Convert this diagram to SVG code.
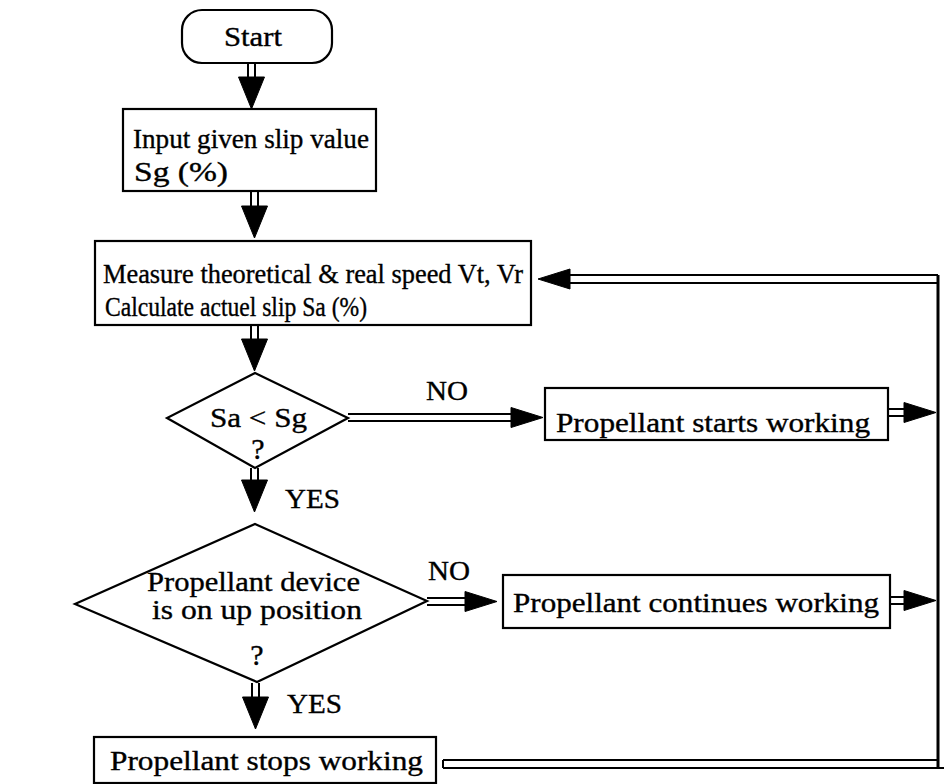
<svg xmlns="http://www.w3.org/2000/svg" width="944" height="784" viewBox="0 0 944 784">
<defs>
<style>
.box{fill:#fff;stroke:#000;stroke-width:2.2}
.t{font-family:"Liberation Serif","Times New Roman",serif;font-size:27px;fill:#000;stroke:#000;stroke-width:0.35}
.c{text-anchor:middle}
.q{font-size:30px}
.ln{stroke:#000;stroke-width:2;fill:none}
.lv{stroke:#000;stroke-width:3;fill:none}
.hd{fill:#000;stroke:#000;stroke-width:1}
</style>
<path id="down" d="M-13,0 L13,0 L0,32 Z"/>
<path id="right" d="M0,-10 L0,10 L32,0 Z"/>
<path id="left" d="M0,-10 L0,10 L-32,0 Z"/>
</defs>
<rect width="944" height="784" fill="#fff"/>

<g id="connectors">
  <!-- Start -> Input -->
  <line class="ln" x1="248" y1="63" x2="248" y2="78"/><line class="ln" x1="255" y1="63" x2="255" y2="78"/>
  <use href="#down" class="hd" x="251.5" y="77"/>
  <!-- Input -> Measure -->
  <line class="ln" x1="251" y1="191" x2="251" y2="206"/><line class="ln" x1="258" y1="191" x2="258" y2="206"/>
  <use href="#down" class="hd" x="254.5" y="206"/>
  <!-- Measure -> Decision1 -->
  <line class="ln" x1="251" y1="325" x2="251" y2="340"/><line class="ln" x1="258" y1="325" x2="258" y2="340"/>
  <use href="#down" class="hd" x="254.5" y="339"/>
  <!-- Decision1 YES -->
  <line class="ln" x1="251" y1="468" x2="251" y2="481"/><line class="ln" x1="258" y1="468" x2="258" y2="481"/>
  <use href="#down" class="hd" x="254.5" y="480"/>
  <text class="t" x="285" y="508" textLength="55" lengthAdjust="spacingAndGlyphs">YES</text>
  <!-- Decision1 NO -->
  <line class="ln" x1="348" y1="414" x2="512" y2="414"/><line class="ln" x1="348" y1="421" x2="512" y2="421"/>
  <use href="#right" class="hd" x="511" y="417.5"/>
  <text class="t" x="426" y="400" textLength="42" lengthAdjust="spacingAndGlyphs">NO</text>
  <!-- Starts -> right line -->
  <line class="ln" x1="889" y1="409" x2="905" y2="409"/><line class="ln" x1="889" y1="416" x2="905" y2="416"/>
  <use href="#right" class="hd" x="904" y="412.5"/>
  <!-- Decision2 YES -->
  <line class="ln" x1="252" y1="683" x2="252" y2="697"/><line class="ln" x1="259" y1="683" x2="259" y2="697"/>
  <use href="#down" class="hd" x="255.5" y="697"/>
  <text class="t" x="287" y="713" textLength="55" lengthAdjust="spacingAndGlyphs">YES</text>
  <!-- Decision2 NO -->
  <line class="ln" x1="427" y1="598" x2="466" y2="598"/><line class="ln" x1="427" y1="605" x2="466" y2="605"/>
  <use href="#right" class="hd" x="465" y="601.5"/>
  <text class="t" x="428" y="580" textLength="42" lengthAdjust="spacingAndGlyphs">NO</text>
  <!-- Continues -> right line -->
  <line class="ln" x1="891" y1="597" x2="905" y2="597"/><line class="ln" x1="891" y1="604" x2="905" y2="604"/>
  <use href="#right" class="hd" x="904" y="600.5"/>
  <!-- Feedback loop -->
  <line class="ln" x1="443" y1="760" x2="938" y2="760"/><line class="ln" x1="443" y1="768" x2="944" y2="768"/>
  <line class="ln" x1="443" y1="760" x2="443" y2="768"/>
  <line class="lv" x1="938" y1="275" x2="938" y2="769"/>
  <line class="ln" x1="568" y1="275" x2="938" y2="275"/><line class="ln" x1="568" y1="283" x2="938" y2="283"/>
  <use href="#left" class="hd" x="570" y="279"/>
</g>

<g id="start">
  <rect class="box" x="182" y="10" width="150" height="53" rx="20"/>
  <text class="t c" x="253" y="46" textLength="58" lengthAdjust="spacingAndGlyphs">Start</text>
</g>

<g id="input">
  <rect class="box" x="123" y="109" width="253" height="82"/>
  <text class="t" x="133" y="148" textLength="236" lengthAdjust="spacingAndGlyphs">Input given slip value</text>
  <text class="t" x="134" y="181" textLength="94" lengthAdjust="spacingAndGlyphs">Sg  (%)</text>
</g>

<g id="measure">
  <rect class="box" x="95" y="241" width="436" height="84"/>
  <text class="t" x="103" y="283" textLength="420" lengthAdjust="spacingAndGlyphs">Measure theoretical &amp; real speed  Vt, Vr</text>
  <text class="t" x="105" y="316" textLength="262" lengthAdjust="spacingAndGlyphs">Calculate actuel slip Sa (%)</text>
</g>

<g id="decision1">
  <polygon class="box" points="255,373 348,418 255,468 167,418"/>
  <text class="t" x="210" y="427" textLength="97" lengthAdjust="spacingAndGlyphs">Sa &lt; Sg</text>
  <text class="t c q" x="258" y="459">?</text>
</g>

<g id="starts">
  <rect class="box" x="545" y="388" width="343" height="52"/>
  <text class="t" x="556" y="432" textLength="314" lengthAdjust="spacingAndGlyphs">Propellant starts working</text>
</g>

<g id="decision2">
  <polygon class="box" points="255,524 427,601 257,682 75,604"/>
  <text class="t" x="147" y="591" textLength="213" lengthAdjust="spacingAndGlyphs">Propellant device</text>
  <text class="t" x="152" y="619" textLength="210" lengthAdjust="spacingAndGlyphs">is on up position</text>
  <text class="t c q" x="257" y="665">?</text>
</g>

<g id="continues">
  <rect class="box" x="503" y="575" width="387" height="53"/>
  <text class="t" x="513" y="612" textLength="366" lengthAdjust="spacingAndGlyphs">Propellant continues working</text>
</g>

<g id="stops">
  <rect class="box" x="94" y="737" width="342" height="46"/>
  <text class="t" x="110" y="770" textLength="313" lengthAdjust="spacingAndGlyphs">Propellant stops working</text>
</g>
</svg>
